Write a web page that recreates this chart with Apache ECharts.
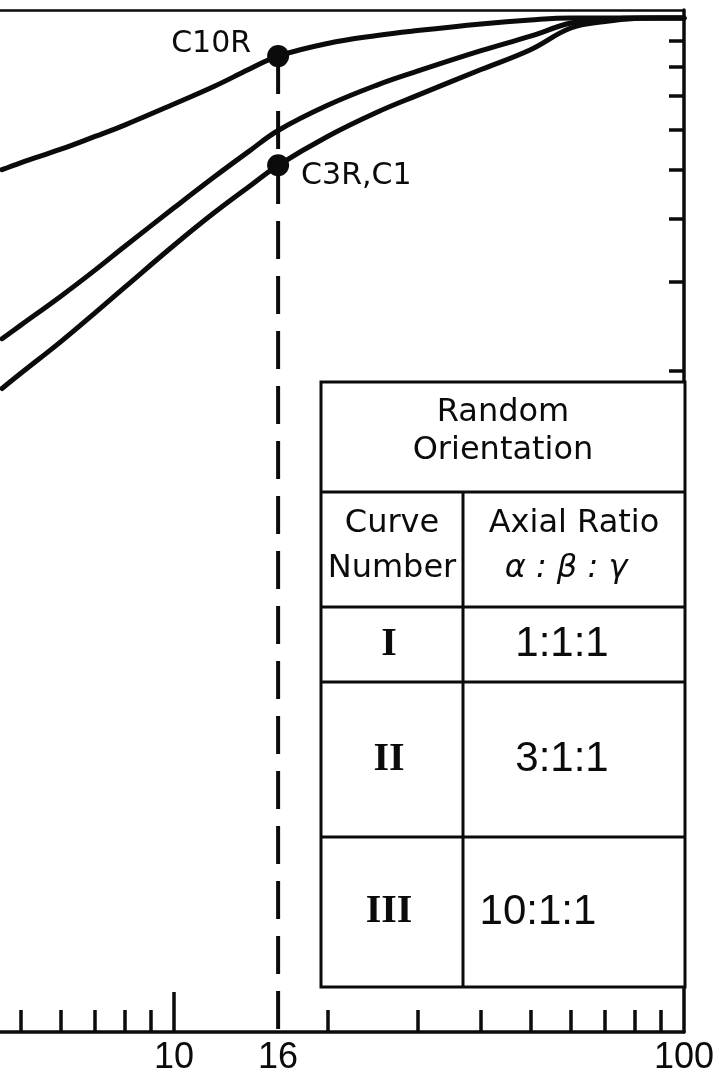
<!DOCTYPE html>
<html>
<head>
<meta charset="utf-8">
<script src="https://cdn.jsdelivr.net/npm/echarts@6/dist/echarts.min.js"></script>
<style>
  html, body { margin: 0; padding: 0; background: #ffffff; }
  #chart { width: 724px; height: 1079px; }
</style>
</head>
<body>
<div id="chart"></div>
<script>
// Sample points along the horizontal (log) axis
const sizes = [4.6, 5, 6, 7, 8, 10, 12, 14, 16, 20, 25, 30, 40, 50, 60, 70, 80, 90, 100];

// The three curves, top to bottom
const curveUpper  = [0.50, 0.516, 0.549, 0.582, 0.613, 0.675, 0.732, 0.79, 0.84, 0.89, 0.923, 0.944, 0.973, 0.991, 1.0, 1.0, 1.0, 1.0, 1.0];
const curveMiddle = [0.231, 0.2455, 0.2805, 0.316, 0.352, 0.42, 0.484, 0.543, 0.598, 0.671, 0.736, 0.784, 0.861, 0.92, 0.977, 0.993, 1.0, 1.0, 1.0];
const curveLower  = [0.184, 0.197, 0.228, 0.26, 0.292, 0.354, 0.411, 0.462, 0.51, 0.582, 0.65, 0.702, 0.79, 0.865, 0.955, 0.984, 0.998, 1.0, 1.0];

// Marked points on the x = 16 reference line
const markX = 16;
const markedY = [0.84, 0.51];
const markedNames = ['C10R', 'C3R,C1'];

// Axis ticks and labels
const xMinorTicks = [5, 6, 7, 8, 9, 20, 30, 40, 50, 60, 70, 80, 90];
const xMajorTicks = [10];
const xTickLabels = [10, 16, 100];
const yTicks = [0.2, 0.3, 0.4, 0.5, 0.6, 0.7, 0.8, 0.9];

// Axis extents (log scales)
const xMin = 4.558, xMax = 100;
const yMin = 0.00973, yMax = 1.037;

// Inset table
const tableTitle = ['Random', 'Orientation'];
const headerLeft = ['Curve', 'Number'];
const headerRight = ['Axial Ratio', 'α : β : γ'];
const curveNumbers = ['I', 'II', 'III'];
const axialRatios = ['1:1:1', '3:1:1', '10:1:1'];

const INK = '#0b0b0b';
const SANS = '"DejaVu Sans", "Liberation Sans", sans-serif';
const NUM = '"Liberation Sans", "DejaVu Sans", sans-serif';
const SERIF = '"Liberation Serif", "DejaVu Serif", serif';

const chart = echarts.init(document.getElementById('chart'), null, { renderer: 'canvas' });

function pairs(ys) { return sizes.map((x, i) => [x, ys[i]]); }

function curveSeries(ys) {
  return {
    type: 'line', data: pairs(ys), smooth: 0.4, symbol: 'none',
    lineStyle: { color: INK, width: 5, cap: 'round', join: 'round' }, z: 3, silent: true
  };
}

// Table geometry
const T = { left: 321, right: 685, top: 382, bottom: 987, split: 463,
            rows: [492, 607, 682, 837] };
const colL = (T.left + T.split) / 2;
const colR = (T.split + T.right) / 2;

function hLine(y) {
  return { type: 'line', shape: { x1: T.left, y1: y, x2: T.right, y2: y },
           style: { stroke: INK, lineWidth: 3 }, z: 100 };
}
function txt(x, y, s, font, extra) {
  return { type: 'text', x: x, y: y, z: 101,
           style: Object.assign({ text: s, fill: INK, font: font,
                                  align: 'center', verticalAlign: 'middle' }, extra || {}) };
}

const rowCenters = [(T.rows[1] + T.rows[2]) / 2, (T.rows[2] + T.rows[3]) / 2, (T.rows[3] + T.bottom) / 2];

const graphics = [
  { type: 'rect', shape: { x: T.left, y: T.top, width: T.right - T.left, height: T.bottom - T.top },
    style: { fill: '#ffffff', stroke: INK, lineWidth: 3 }, z: 99 },
  hLine(T.rows[0]), hLine(T.rows[1]), hLine(T.rows[2]), hLine(T.rows[3]),
  { type: 'line', shape: { x1: T.split, y1: T.rows[0], x2: T.split, y2: T.bottom },
    style: { stroke: INK, lineWidth: 3 }, z: 100 },
  txt((T.left + T.right) / 2, 413, tableTitle[0], '32px ' + SANS),
  txt((T.left + T.right) / 2, 451, tableTitle[1], '32px ' + SANS),
  txt(colL, 524, headerLeft[0], '32px ' + SANS),
  txt(colL, 569, headerLeft[1], '32px ' + SANS),
  txt(colR, 524, headerRight[0], '32px ' + SANS),
  txt(colR - 8, 569, headerRight[1], 'italic 32px ' + SANS)
];
curveNumbers.forEach((c, i) => graphics.push(txt(colL - 3, rowCenters[i], c, 'bold 40px ' + SERIF)));
axialRatios.forEach((r, i) => graphics.push(txt(i === 2 ? colR - 36 : colR - 12, rowCenters[i], r, '42px ' + NUM)));

const logX = (extra) => Object.assign({
  type: 'log', logBase: 10, min: xMin, max: xMax, gridIndex: 0,
  splitLine: { show: false }, axisLabel: { show: false }, axisTick: { show: false },
  axisLine: { show: false }
}, extra);

const option = {
  animation: false,
  backgroundColor: '#ffffff',
  grid: { left: 0, right: 40, top: 10, bottom: 47, containLabel: false, outerBoundsMode: 'none' },
  xAxis: [
    logX({
      position: 'bottom',
      axisLine: { show: true, onZero: false, lineStyle: { color: INK, width: 3.5 } },
      axisTick: { show: true, inside: true, length: 22, customValues: xMinorTicks,
                  lineStyle: { color: INK, width: 3.5 } },
      axisLabel: { show: true, customValues: xTickLabels, color: INK, fontSize: 36,
                   fontFamily: NUM, margin: 8 }
    }),
    logX({
      position: 'bottom',
      axisTick: { show: true, inside: true, length: 40, customValues: xMajorTicks,
                  lineStyle: { color: INK, width: 3.5 } }
    }),
    logX({
      position: 'top',
      axisLine: { show: true, onZero: false, lineStyle: { color: INK, width: 2.5 } }
    })
  ],
  yAxis: [{
    type: 'log', logBase: 10, min: yMin, max: yMax, position: 'right',
    splitLine: { show: false },
    axisLine: { show: true, onZero: false, lineStyle: { color: INK, width: 3.5 } },
    axisTick: { show: true, inside: true, length: 15, customValues: yTicks,
                lineStyle: { color: INK, width: 3.5 } },
    axisLabel: { show: false }
  }],
  series: [
    curveSeries(curveUpper),
    curveSeries(curveMiddle),
    curveSeries(curveLower),
    {
      type: 'line', data: [[markX, markedY[0]], [markX, yMin]], symbol: 'none',
      lineStyle: { color: INK, width: 4, type: [38, 17] }, z: 2, silent: true
    },
    {
      type: 'scatter', symbol: 'circle', symbolSize: 22, z: 5, silent: true,
      itemStyle: { color: INK, opacity: 1 },
      data: markedY.map((y, i) => ({
        value: [markX, y],
        label: {
          show: true, formatter: markedNames[i], color: INK, opacity: 1,
          fontSize: 30, fontFamily: SANS,
          position: i === 0 ? 'left' : 'right', distance: i === 0 ? 16 : 12,
          offset: i === 0 ? [0, -12] : [0, 11]
        }
      }))
    }
  ],
  graphic: graphics
};

chart.setOption(option);
</script>
</body>
</html>
